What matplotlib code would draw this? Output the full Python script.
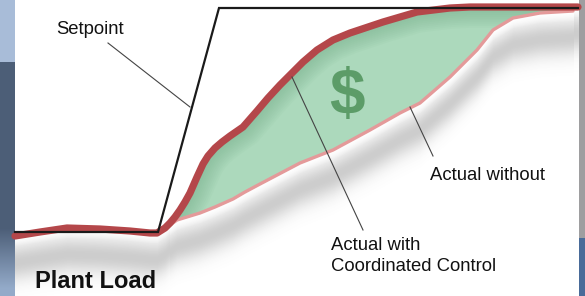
import numpy as np
import matplotlib
matplotlib.use("Agg")
import matplotlib.pyplot as plt

plt.rcParams['font.family'] = ['Liberation Sans', 'DejaVu Sans']

# ---- data (time and load in picture units)
setpoint_t = [15, 158, 219, 578]
setpoint_load = [64, 64, 288, 288]

with_t = [15, 40, 67, 100, 130, 150, 157, 165, 170, 175,
          180, 185, 190, 197, 203, 208, 215, 222, 230, 243,
          257, 268, 280, 290, 303, 317, 333, 350, 383, 417,
          450, 470, 500, 578]
with_load = [60, 64, 68, 67, 65, 63, 63, 68, 73, 79,
             86, 94, 103, 119, 132, 140, 148, 154, 160, 169,
             185, 198, 211, 221, 234, 246, 256, 263, 274, 284,
             288, 289, 289, 289]

without_t = [170, 177, 200, 215, 233, 245, 260, 300, 333, 370,
             400, 420, 450, 477, 493, 513, 540, 573]
without_load = [71, 76, 83, 89, 97, 104, 112, 133, 146, 166,
                183, 193, 219, 246, 266, 278, 283, 285]

labels = {
    "setpoint": "Setpoint",
    "without": "Actual without",
    "with": "Actual with\nCoordinated Control",
    "title": "Plant Load",
    "money": "$",
}

W, H = 585, 296
fig = plt.figure(figsize=(W / 100, H / 100), dpi=100)
ax = fig.add_axes([0, 0, 1, 1])
ax.set_xlim(0, W)
ax.set_ylim(0, H)
ax.axis('off')

# background panels
left = np.zeros((H, 1, 3))
for i in range(H):
    if i < 62:
        c = (0.66, 0.74, 0.85)
    elif i < 228:
        c = (0.30, 0.37, 0.47)
    else:
        f = min(1, (i - 228) / 60)
        c = (0.30 + f * 0.28, 0.37 + f * 0.30, 0.47 + f * 0.32)
    left[i, 0] = c
ax.imshow(left, extent=[0, 15, 0, H], aspect='auto', zorder=0)
right = np.zeros((H, 1, 3))
for i in range(H):
    right[i, 0] = (0.62, 0.62, 0.63) if i < 238 else (0.29, 0.42, 0.60)
ax.imshow(right, extent=[579, W, 0, H], aspect='auto', zorder=0)

# soft shadow under the curves
wt = np.array(with_t, float); wl = np.array(with_load, float)
ot = np.array(without_t, float); ol = np.array(without_load, float)
xs = np.arange(15, 579)
low_w = np.interp(xs, wt, wl)
low_o = np.interp(xs, ot, ol, left=np.nan, right=np.nan)
low = np.where(np.isnan(low_o), low_w, np.minimum(low_o, low_w))
load_grid = H - np.arange(H)[:, None]
d = low[None, :] - load_grid
sh = np.exp(-((d - 26) / 18.0) ** 2) * np.clip(d / 10.0, 0, 1) * 0.34
rgba = np.zeros((H, len(xs), 4))
rgba[..., :3] = 0.42
rgba[..., 3] = np.clip(sh, 0, 1)
ax.imshow(rgba, extent=[15, 579, 0, H], aspect='auto', zorder=1, interpolation='bilinear')

# green area between curves, with soft darker shading along the upper edge
i0 = with_t.index(170)
poly_t = with_t[i0:] + without_t[::-1]
poly_l = with_load[i0:] + without_load[::-1]
area = ax.fill(poly_t, poly_l, color='#acd9bc', zorder=2, lw=0)[0]
for lw in np.linspace(30, 6, 10):
    shade, = ax.plot(with_t, with_load, color='#74ab88', lw=lw, alpha=0.06,
                     solid_capstyle='round', solid_joinstyle='round', zorder=2.2)
    shade.set_clip_path(area)

# lines
ax.plot(without_t, without_load, color='#e49a9a', lw=2.4, solid_capstyle='round',
        solid_joinstyle='round', zorder=3)
ax.plot(with_t, with_load, color='#b4474a', lw=5.2, solid_capstyle='round',
        solid_joinstyle='round', zorder=4)
ax.plot(setpoint_t, setpoint_load, color='#1a1a1a', lw=1.6, solid_joinstyle='miter', zorder=5)

# annotation leader lines
ax.plot([108, 190], [H - 43, H - 107], color='#444444', lw=0.8, zorder=6)
ax.plot([292, 363], [H - 77, H - 230], color='#444444', lw=0.8, zorder=6)
ax.plot([410, 433], [H - 107, H - 156], color='#444444', lw=0.8, zorder=6)

# texts
ax.text(56, H - 29, labels["setpoint"], fontsize=13.3, va='center', ha='left', color='#111111', zorder=7)
ax.text(430, H - 175, labels["without"], fontsize=13.3, va='center', ha='left', color='#111111', zorder=7)
ax.text(331, H - 256, labels["with"], fontsize=13.3, va='center', ha='left', color='#111111',
        linespacing=1.26, zorder=7)
ax.text(35, H - 281, labels["title"], fontsize=17, fontweight='bold', va='center', ha='left',
        color='#111111', zorder=7)
ax.text(347, H - 97, labels["money"], fontsize=46, fontweight='bold', va='center', ha='center',
        color='#5c9c68', parse_math=False, zorder=7)

fig.savefig('out.png', dpi=100)
